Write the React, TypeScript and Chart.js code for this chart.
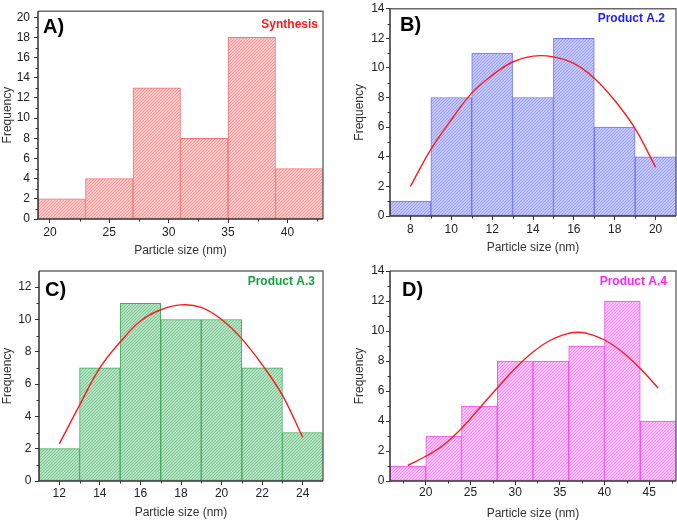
import React, { useEffect, useRef } from 'react';
import { Chart, registerables } from 'chart.js';

Chart.register(...registerables);

// ---------- Panel A: Synthesis ----------
const binStartA = [19, 23, 27, 31, 35, 39];
const countsA = [2, 4, 13, 8, 18, 5];
const binWidthA = 4;
const xRangeA = [19, 43];
const yRangeA = [0, 20.6];
const xTicksA = [20, 25, 30, 35, 40];
const xMinorA = [22.5, 27.5, 32.5, 37.5, 42.5];
const yTicksA = [0, 2, 4, 6, 8, 10, 12, 14, 16, 18, 20];
const yMinorA = [1, 3, 5, 7, 9, 11, 13, 15, 17, 19];
const curveXA: number[] = [];
const curveYA: number[] = [];

// ---------- Panel B: Product A.2 ----------
const binStartB = [7, 9, 11, 13, 15, 17, 19];
const countsB = [1, 8, 11, 8, 12, 6, 4];
const binWidthB = 2;
const xRangeB = [7, 21];
const yRangeB = [0, 14];
const xTicksB = [8, 10, 12, 14, 16, 18, 20];
const xMinorB = [9, 11, 13, 15, 17, 19];
const yTicksB = [0, 2, 4, 6, 8, 10, 12, 14];
const yMinorB = [1, 3, 5, 7, 9, 11, 13];
const curveXB = [8, 9, 10, 11, 12, 13, 14, 15, 16, 17, 18, 19, 20];
const curveYB = [2.0, 4.5, 6.5, 8.3, 9.5, 10.4, 10.8, 10.75, 10.3, 9.3, 7.8, 5.9, 3.3];

// ---------- Panel C: Product A.3 ----------
const binStartC = [11, 13, 15, 17, 19, 21, 23];
const countsC = [2, 7, 11, 10, 10, 7, 3];
const binWidthC = 2;
const xRangeC = [11, 25];
const yRangeC = [0, 13];
const xTicksC = [12, 14, 16, 18, 20, 22, 24];
const xMinorC = [13, 15, 17, 19, 21, 23];
const yTicksC = [0, 2, 4, 6, 8, 10, 12];
const yMinorC = [1, 3, 5, 7, 9, 11];
const curveXC = [12, 13, 14, 15, 16, 17, 18, 19, 20, 21, 22, 23, 24];
const curveYC = [2.3, 4.7, 7.0, 8.6, 9.9, 10.6, 10.9, 10.75, 10.0, 8.8, 7.2, 5.3, 2.7];

// ---------- Panel D: Product A.4 ----------
const binStartD = [16, 20, 24, 28, 32, 36, 40, 44];
const countsD = [1, 3, 5, 8, 8, 9, 12, 4];
const binWidthD = 4;
const xRangeD = [16, 48];
const yRangeD = [0, 14];
const xTicksD = [20, 25, 30, 35, 40, 45];
const xMinorD = [17.5, 22.5, 27.5, 32.5, 37.5, 42.5, 47.5];
const yTicksD = [0, 2, 4, 6, 8, 10, 12, 14];
const yMinorD = [1, 3, 5, 7, 9, 11, 13];
const curveXD = [18, 20, 22, 24, 26, 28, 30, 32, 34, 36, 37, 38, 40, 42, 44, 46];
const curveYD = [1.05, 1.65, 2.4, 3.5, 4.85, 6.2, 7.5, 8.6, 9.4, 9.85, 9.92, 9.85, 9.4, 8.6, 7.5, 6.2];

const xTitle = 'Particle size (nm)';
const yTitle = 'Frequency';

const FONT = '"Liberation Sans", Arial, sans-serif';

type PanelCfg = {
  key: string;
  letter: string;
  label: string;
  labelColor: string;
  starts: number[];
  counts: number[];
  binWidth: number;
  xRange: number[];
  yRange: number[];
  xTicks: number[];
  xMinor: number[];
  yTicks: number[];
  yMinor: number[];
  curveX: number[];
  curveY: number[];
  box: { x: number; y: number; w: number; h: number };
  pad: { left: number; right: number; top: number; bottom: number };
  yW: number;
  xH: number;
  yTitlePad: number;
  xTitlePad: number;
  yTickPad: number;
  xTickPad: number;
  hatchBg: string;
  hatchLine: string;
  border: string;
  letterDx: number;
  letterDy: number;
  labelDx: number;
  labelDy: number;
};

const panels: PanelCfg[] = [
  {
    key: 'A', letter: 'A)', label: 'Synthesis', labelColor: '#ff1a1a',
    starts: binStartA, counts: countsA, binWidth: binWidthA, xRange: xRangeA, yRange: yRangeA,
    xTicks: xTicksA, xMinor: xMinorA, yTicks: yTicksA, yMinor: yMinorA, curveX: curveXA, curveY: curveYA,
    box: { x: 0, y: 0, w: 338, h: 260 },
    pad: { left: 0, right: 15, top: 8, bottom: 0 }, yW: 38, xH: 41,
    yTitlePad: 0, xTitlePad: 2, yTickPad: 4, xTickPad: 2,
    hatchBg: '#fac6c6', hatchLine: '#f39a9a', border: '#f47474',
    letterDx: 5, letterDy: 22, labelDx: 5, labelDy: 13,
  },
  {
    key: 'B', letter: 'B)', label: 'Product A.2', labelColor: '#2020ff',
    starts: binStartB, counts: countsB, binWidth: binWidthB, xRange: xRangeB, yRange: yRangeB,
    xTicks: xTicksB, xMinor: xMinorB, yTicks: yTicksB, yMinor: yMinorB, curveX: curveXB, curveY: curveYB,
    box: { x: 338, y: 0, w: 339, h: 260 },
    pad: { left: 0, right: 1, top: 6, bottom: 0 }, yW: 52, xH: 44,
    yTitlePad: 14, xTitlePad: 5, yTickPad: 1.5, xTickPad: 2,
    hatchBg: '#c3c6f8', hatchLine: '#9ca0f1', border: '#7074f2',
    letterDx: 10, letterDy: 22, labelDx: 11, labelDy: 10,
  },
  {
    key: 'C', letter: 'C)', label: 'Product A.3', labelColor: '#18a040',
    starts: binStartC, counts: countsC, binWidth: binWidthC, xRange: xRangeC, yRange: yRangeC,
    xTicks: xTicksC, xMinor: xMinorC, yTicks: yTicksC, yMinor: yMinorC, curveX: curveXC, curveY: curveYC,
    box: { x: 0, y: 260, w: 338, h: 261 },
    pad: { left: 0, right: 15, top: 11, bottom: 0 }, yW: 39, xH: 40,
    yTitlePad: 0, xTitlePad: 1, yTickPad: 3.5, xTickPad: 1,
    hatchBg: '#b4e2c2', hatchLine: '#7ac792', border: '#44a862',
    letterDx: 6, letterDy: 25, labelDx: 8, labelDy: 11,
  },
  {
    key: 'D', letter: 'D)', label: 'Product A.4', labelColor: '#ff20ff',
    starts: binStartD, counts: countsD, binWidth: binWidthD, xRange: xRangeD, yRange: yRangeD,
    xTicks: xTicksD, xMinor: xMinorD, yTicks: yTicksD, yMinor: yMinorD, curveX: curveXD, curveY: curveYD,
    box: { x: 338, y: 260, w: 339, h: 261 },
    pad: { left: 0, right: 1, top: 11, bottom: 0 }, yW: 52, xH: 40,
    yTitlePad: 14, xTitlePad: 0, yTickPad: 1.5, xTickPad: 0.5,
    hatchBg: '#f9c0f9', hatchLine: '#f290f2', border: '#f050f0',
    letterDx: 12, letterDy: 25, labelDx: 9, labelDy: 11,
  },
];

function makeHatch(bg: string, line: string): CanvasPattern | string {
  const c = document.createElement('canvas');
  c.width = 3;
  c.height = 3;
  const g = c.getContext('2d');
  if (!g) return bg;
  for (let x = 0; x < 3; x++) {
    for (let y = 0; y < 3; y++) {
      g.fillStyle = (x + y) % 3 === 2 ? line : bg;
      g.fillRect(x, y, 1, 1);
    }
  }
  return g.createPattern(c, 'repeat') || bg;
}

function Panel({ cfg }: { cfg: PanelCfg }) {
  const ref = useRef<HTMLCanvasElement>(null);

  useEffect(() => {
    if (!ref.current) return;
    const barData = cfg.starts.map((s, i) => ({ x: s + cfg.binWidth / 2, y: cfg.counts[i] }));
    const curveData = cfg.curveX.map((x, i) => ({ x, y: cfg.curveY[i] }));

    const framePlugin = {
      id: 'frame' + cfg.key,
      afterDatasetsDraw(chart: any) {
        const { ctx, chartArea, scales } = chart;
        const { left, right, top, bottom } = chartArea;
        ctx.save();
        ctx.strokeStyle = '#333';
        ctx.lineWidth = 1;
        ctx.beginPath();
        cfg.xMinor.forEach((v) => {
          const x = Math.round(scales.x.getPixelForValue(v)) + 0.5;
          ctx.moveTo(x, bottom);
          ctx.lineTo(x, bottom + 2.5);
        });
        cfg.yMinor.forEach((v) => {
          const y = Math.round(scales.y.getPixelForValue(v)) + 0.5;
          ctx.moveTo(left, y);
          ctx.lineTo(left - 2.5, y);
        });
        ctx.stroke();
        ctx.strokeStyle = '#6a6a6a';
        ctx.lineWidth = 1.4;
        ctx.beginPath();
        ctx.moveTo(left, top);
        ctx.lineTo(right, top);
        ctx.lineTo(right, bottom);
        ctx.stroke();
        ctx.strokeStyle = '#333';
        ctx.lineWidth = 1.5;
        ctx.beginPath();
        ctx.moveTo(left, top);
        ctx.lineTo(left, bottom);
        ctx.lineTo(right, bottom);
        ctx.stroke();
        ctx.restore();
      },
      afterDraw(chart: any) {
        const { ctx, chartArea } = chart;
        const { left, right, top } = chartArea;
        ctx.save();
        ctx.fillStyle = '#000';
        ctx.font = 'bold 20px ' + FONT;
        ctx.textAlign = 'left';
        ctx.textBaseline = 'alphabetic';
        ctx.fillText(cfg.letter, left + cfg.letterDx, top + cfg.letterDy);
        ctx.fillStyle = cfg.labelColor;
        ctx.font = 'bold 12px ' + FONT;
        ctx.textAlign = 'right';
        ctx.textBaseline = 'middle';
        ctx.fillText(cfg.label, right - cfg.labelDx, top + cfg.labelDy);
        ctx.restore();
      },
    };

    const tickFont = { family: FONT, size: 12 };
    const datasets: any[] = [];
    if (curveData.length) {
      datasets.push({
        type: 'line',
        data: curveData,
        borderColor: '#ff1a1a',
        borderWidth: 1.4,
        pointRadius: 0,
        tension: 0.4,
        fill: false,
        order: 0,
      });
    }
    datasets.push({
      type: 'bar',
      data: barData,
      backgroundColor: makeHatch(cfg.hatchBg, cfg.hatchLine),
      borderColor: cfg.border,
      borderWidth: 1,
      borderSkipped: false,
      barPercentage: 1,
      categoryPercentage: 1,
      order: 1,
    });

    const chart = new Chart(ref.current, {
      type: 'bar',
      data: { datasets },
      options: {
        animation: false,
        responsive: false,
        maintainAspectRatio: false,
        devicePixelRatio: 1,
        layout: { padding: cfg.pad },
        plugins: { legend: { display: false }, tooltip: { enabled: false }, title: { display: false } },
        scales: {
          x: {
            type: 'linear',
            min: cfg.xRange[0],
            max: cfg.xRange[1],
            offset: false,
            afterBuildTicks: (s: any) => {
              s.ticks = cfg.xTicks.map((v) => ({ value: v }));
            },
            afterFit: (s: any) => {
              s.height = cfg.xH;
            },
            grid: { display: true, offset: false, drawOnChartArea: false, drawTicks: true, tickLength: 4, tickColor: '#333', tickWidth: 1 },
            border: { display: false },
            ticks: { font: tickFont, color: '#222', padding: cfg.xTickPad, maxRotation: 0, autoSkip: false },
            title: { display: true, text: xTitle, font: { family: FONT, size: 12 }, color: '#333', padding: { top: 0, bottom: cfg.xTitlePad } },
          },
          y: {
            type: 'linear',
            min: cfg.yRange[0],
            max: cfg.yRange[1],
            afterBuildTicks: (s: any) => {
              s.ticks = cfg.yTicks.map((v) => ({ value: v }));
            },
            afterFit: (s: any) => {
              s.width = cfg.yW;
            },
            grid: { display: true, drawOnChartArea: false, drawTicks: true, tickLength: 4, tickColor: '#333', tickWidth: 1 },
            border: { display: false },
            ticks: { font: tickFont, color: '#222', padding: cfg.yTickPad, autoSkip: false },
            title: { display: true, text: yTitle, font: { family: FONT, size: 12 }, color: '#333', padding: { top: cfg.yTitlePad, bottom: 0 } },
          },
        },
      } as any,
      plugins: [framePlugin],
    });
    return () => chart.destroy();
  }, [cfg]);

  return (
    <canvas
      ref={ref}
      width={cfg.box.w}
      height={cfg.box.h}
      style={{ position: 'absolute', left: cfg.box.x, top: cfg.box.y, width: cfg.box.w, height: cfg.box.h, display: 'block' }}
    />
  );
}

export default function App() {
  return (
    <div style={{ position: 'fixed', left: 0, top: 0, width: 677, height: 521, background: '#fff', overflow: 'hidden' }}>
      {panels.map((p) => (
        <Panel key={p.key} cfg={p} />
      ))}
    </div>
  );
}
